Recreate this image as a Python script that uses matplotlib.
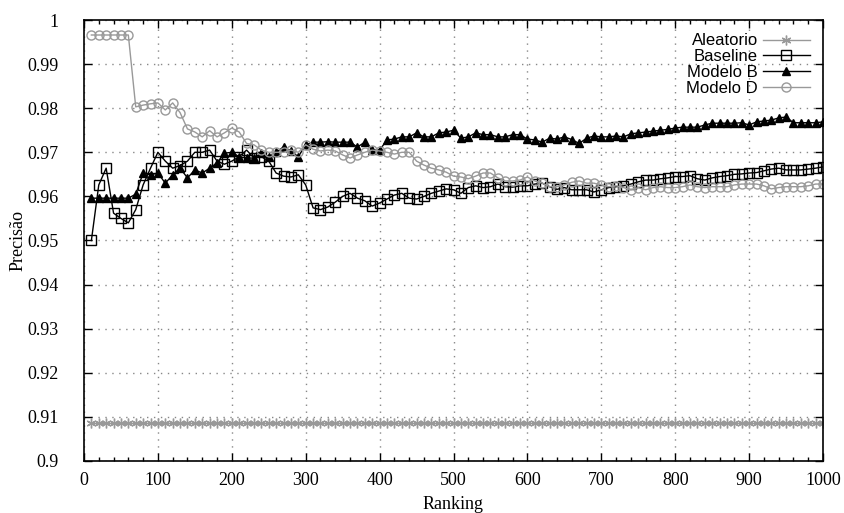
import matplotlib
matplotlib.use('Agg')
import matplotlib.pyplot as plt
from matplotlib.ticker import MultipleLocator

ranking = list(range(10, 1001, 10))

aleatorio = [0.9085] * 100

baseline = [0.950, 0.9626, 0.9664, 0.9562, 0.955, 0.954, 0.957, 0.9626, 0.9664, 0.970,
            0.968, 0.9664, 0.967, 0.968, 0.970, 0.970, 0.9705, 0.968, 0.9673, 0.968,
            0.969, 0.9705, 0.9687, 0.969, 0.968, 0.9653, 0.9646, 0.9644, 0.9649, 0.9626,
            0.9574, 0.957, 0.9576, 0.9587, 0.960, 0.9607, 0.9596, 0.959, 0.9578, 0.9585,
            0.9594, 0.9603, 0.9607, 0.9596, 0.9594, 0.960, 0.9607, 0.9612, 0.9617, 0.9615,
            0.9607, 0.962, 0.9624, 0.962, 0.9622, 0.9628, 0.9622, 0.9621, 0.9624, 0.9624,
            0.9628, 0.963, 0.9622, 0.9616, 0.962, 0.9615, 0.9615, 0.9615, 0.961, 0.9615,
            0.962, 0.9622, 0.9624, 0.9628, 0.9633, 0.9637, 0.9637, 0.964, 0.9642, 0.9645,
            0.9645, 0.9647, 0.964, 0.9637, 0.9642, 0.9645, 0.9647, 0.965, 0.9651, 0.9653,
            0.9654, 0.9658, 0.9662, 0.9664, 0.966, 0.966, 0.966, 0.9662, 0.9664, 0.9667]

modelo_b = [0.9596, 0.9596, 0.9596, 0.9596, 0.9596, 0.9596, 0.9605, 0.9653, 0.9649, 0.9653,
            0.963, 0.9649, 0.9664, 0.9642, 0.966, 0.9653, 0.9664, 0.9676, 0.9698, 0.970,
            0.969, 0.9687, 0.9687, 0.9698, 0.969, 0.970, 0.9712, 0.9703, 0.969, 0.9717,
            0.9723, 0.9723, 0.9724, 0.9723, 0.9723, 0.9723, 0.9712, 0.9723, 0.9705, 0.9705,
            0.9728, 0.973, 0.9735, 0.9735, 0.9744, 0.9735, 0.9735, 0.9744, 0.9746, 0.975,
            0.9732, 0.9735, 0.9744, 0.974, 0.974, 0.9735, 0.9735, 0.974, 0.974, 0.973,
            0.9728, 0.9723, 0.9732, 0.973, 0.9735, 0.9729, 0.972, 0.9732, 0.9737, 0.9735,
            0.9735, 0.9737, 0.9735, 0.9742, 0.9744, 0.9746, 0.9748, 0.975, 0.9752, 0.9755,
            0.9757, 0.9757, 0.9757, 0.9762, 0.9766, 0.9766, 0.9766, 0.9766, 0.9767, 0.9762,
            0.9769, 0.9771, 0.9773, 0.9778, 0.978, 0.9767, 0.9767, 0.9767, 0.9767, 0.9769]

modelo_d = [0.9966, 0.9966, 0.9966, 0.9966, 0.9966, 0.9966, 0.9803, 0.9807, 0.981, 0.9812,
            0.9796, 0.9812, 0.979, 0.9753, 0.9746, 0.9735, 0.9749, 0.9735, 0.9744, 0.9755,
            0.9746, 0.972, 0.9717, 0.9705, 0.970, 0.970, 0.970, 0.9705, 0.970, 0.9717,
            0.9707, 0.9703, 0.9705, 0.9703, 0.9694, 0.9687, 0.9694, 0.970, 0.9705, 0.9703,
            0.970, 0.9696, 0.970, 0.970, 0.968, 0.9671, 0.9664, 0.966, 0.9655, 0.9646,
            0.9644, 0.964, 0.9646, 0.9653, 0.9653, 0.9642, 0.9635, 0.9635, 0.9637, 0.9644,
            0.9635, 0.963, 0.9622, 0.9622, 0.9626, 0.9632, 0.9635, 0.963, 0.963, 0.9626,
            0.9622, 0.9624, 0.962, 0.9615, 0.962, 0.9615, 0.962, 0.9622, 0.962, 0.962,
            0.9622, 0.9626, 0.9622, 0.962, 0.9622, 0.9622, 0.9622, 0.9626, 0.9628, 0.9628,
            0.9628, 0.9624, 0.9617, 0.962, 0.9622, 0.9622, 0.9622, 0.9624, 0.9628, 0.9628]

yticks = [0.9, 0.91, 0.92, 0.93, 0.94, 0.95, 0.96, 0.97, 0.98, 0.99, 1.0]
ytick_labels = ['0.9', '0.91', '0.92', '0.93', '0.94', '0.95', '0.96', '0.97', '0.98', '0.99', '1']
xticks = [0, 100, 200, 300, 400, 500, 600, 700, 800, 900, 1000]

fig = plt.figure(figsize=(8.45, 5.13), dpi=100)
ax = fig.add_axes([0.0994, 0.1014, 0.8746, 0.8596])

gray = '#999999'
ax.plot(ranking, aleatorio, color=gray, lw=1, marker=(6, 2, 0), ms=7, mew=1, label='Aleatorio')
ax.plot(ranking, baseline, color='black', lw=1, marker='s', ms=6.5, mfc='none', mew=1, label='Baseline')
ax.plot(ranking, modelo_b, color='black', lw=1, marker='^', ms=6, label='Modelo B')
ax.plot(ranking, modelo_d, color=gray, lw=1, marker='o', ms=6.5, mfc='none', mew=1, label='Modelo D')

ax.set_xlim(0, 1000)
ax.set_ylim(0.9, 1.0)
ax.set_xticks(xticks)
ax.xaxis.set_minor_locator(MultipleLocator(20))
ax.set_yticks(yticks)
ax.set_yticklabels(ytick_labels)

ax.tick_params(which='both', direction='in', top=True, right=True, width=1)
ax.tick_params(which='major', length=6)
ax.tick_params(which='minor', length=3)
ax.tick_params(axis='y', pad=18)
ax.tick_params(axis='x', pad=8)
for lab in ax.get_xticklabels() + ax.get_yticklabels():
    lab.set_family('Liberation Serif')
    lab.set_fontsize(13)

ax.grid(which='major', color='#888888', linestyle=(0, (1, 4)), lw=1)
for sp in ax.spines.values():
    sp.set_linewidth(1.2)

ax.set_xlabel('Ranking', family='Liberation Serif', fontsize=13)
ax.xaxis.set_label_coords(0.5, -0.08)
ax.set_ylabel('Precisão', family='Liberation Serif', fontsize=13)
ax.yaxis.set_label_coords(-0.078, 0.5)

ax.legend(loc='upper right', frameon=False, markerfirst=False, handlelength=2.8,
          labelspacing=0.05, handletextpad=0.3, borderaxespad=0.4,
          prop={'family': 'Liberation Sans', 'size': 12})

fig.savefig('out.png', dpi=100)
